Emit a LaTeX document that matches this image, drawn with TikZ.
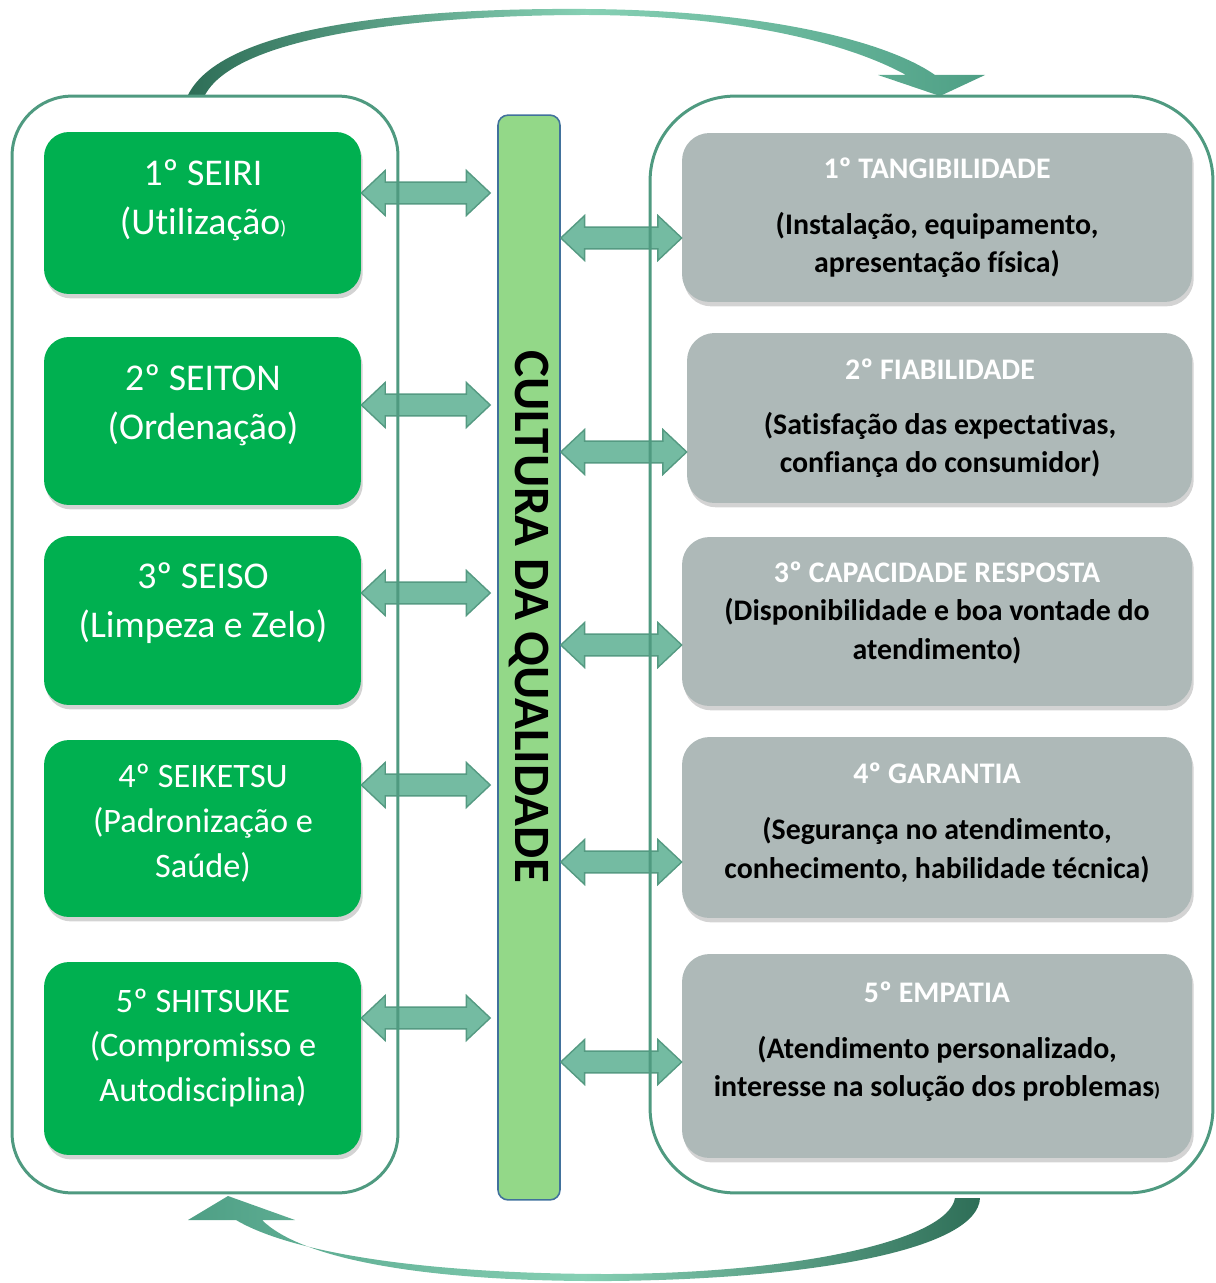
\documentclass[tikz,border=0pt]{standalone}
\usepackage{fontspec}
\setmainfont{Carlito}[Ligatures={NoCommon}]
\usetikzlibrary{calc,shadows}

\definecolor{boxgreen}{HTML}{00B050}
\definecolor{boxgrey}{HTML}{AEB9B8}
\definecolor{barfill}{HTML}{93D888}
\definecolor{barline}{HTML}{41719C}
\definecolor{panelline}{HTML}{4F9A80}
\definecolor{arrfill}{HTML}{74BBA2}
\definecolor{arrline}{HTML}{559A82}
\definecolor{curvedark}{HTML}{2E6E57}
\definecolor{curvelight}{HTML}{86D0B4}
\definecolor{curvemid}{HTML}{4E9F85}

\tikzset{
	panel/.style={draw=panelline, line width=1.7pt, rounded corners=1.2cm},
	boxshadow/.style={drop shadow={shadow xshift=1pt, shadow yshift=-2.5pt, opacity=.35}},
	sbox/.style={fill=boxgreen, rounded corners=0.5cm, minimum width=6.34cm, boxshadow},
	qbox/.style={fill=boxgrey, rounded corners=0.55cm, minimum width=10.2cm, boxshadow},
	bar/.style={fill=barfill, draw=barline, line width=0.9pt, rounded corners=0.2cm,
		minimum width=1.24cm, minimum height=21.7cm},
	stxt/.style={text=white, align=center, font=\fontsize{21.5}{28}\selectfont},
	stxtsmall/.style={text=white, align=center, font=\fontsize{19.5}{25.5}\selectfont},
	qtitle/.style={text=white, font=\fontsize{17}{20}\selectfont\bfseries},
	qbody/.style={text=black, align=center, font=\fontsize{17}{22}\selectfont\bfseries},
	fat/.style={draw=arrline, fill=arrfill, line width=0.8pt, line join=miter,
		to path={let \p1=(\tikztostart), \p2=(\tikztotarget) in
			(\x1,\y1) -- (\x1+13.6pt,\y1+12.8pt) -- (\x1+13.6pt,\y1+6.2pt)
			-- (\x2-13.6pt,\y1+6.2pt) -- (\x2-13.6pt,\y1+12.8pt) -- (\x2,\y1)
			-- (\x2-13.6pt,\y1-12.8pt) -- (\x2-13.6pt,\y1-6.2pt)
			-- (\x1+13.6pt,\y1-6.2pt) -- (\x1+13.6pt,\y1-12.8pt) -- cycle}}
}

\newcommand{\tinyparen}{{\fontsize{11}{11}\selectfont)}}

\begin{document}
\begin{tikzpicture}[x=0.02cm, y=-0.02cm]
	\useasboundingbox (0,0) rectangle (1215,1283);

	% curved arrows round the two panels
	\path[left color=curvedark, right color=curvemid, middle color=curvelight]
		(188,95) .. controls (225,20) and (440,8) .. (585,9)
		.. controls (760,10) and (885,40) .. (935,75)
		-- (985,75) -- (940,96) -- (878,75) -- (906,75)
		.. controls (850,44) and (740,15) .. (585,15)
		.. controls (450,15) and (240,30) .. (205,95) -- cycle;
	\path[left color=curvemid, right color=curvedark, middle color=curvelight]
		(955,1198) -- (980,1198) .. controls (978,1248) and (820,1279) .. (610,1281)
		.. controls (420,1282) and (300,1258) .. (262,1220)
		-- (295,1220) -- (228,1196) -- (188,1220) -- (236,1220)
		.. controls (290,1252) and (420,1274) .. (610,1274)
		.. controls (800,1273) and (948,1240) .. (955,1198) -- cycle;

	% 5S boxes
	\node[sbox, minimum height=3.24cm] (s1) at (202.5,213) {};
	\node[sbox, minimum height=3.36cm] (s2) at (202.5,421) {};
	\node[sbox, minimum height=3.38cm] (s3) at (202.5,620.5) {};
	\node[sbox, minimum height=3.54cm] (s4) at (202.5,828.5) {};
	\node[sbox, minimum height=3.86cm] (s5) at (202.5,1058.5) {};
	\node[stxt] (s1t) at (203,200) {1º SEIRI\\(Utilização\tinyparen};
	\node[stxt] (s2t) at (203,405) {2º SEITON\\(Ordenação)};
	\node[stxt] (s3t) at (203,603) {3º SEISO\\(Limpeza e Zelo)};
	\node[stxtsmall] (s4t) at (203,823) {4º SEIKETSU\\(Padronização e\\Saúde)};
	\node[stxtsmall] (s5t) at (203,1048) {5º SHITSUKE\\(Compromisso e\\Autodisciplina)};

	% quality boxes
	\node[qbox, minimum height=3.38cm] (q1) at (937,217.5) {};
	\node[qbox, minimum width=10.1cm, minimum height=3.4cm] (q2) at (939.5,418) {};
	\node[qbox, minimum height=3.38cm] (q3) at (937,621.5) {};
	\node[qbox, minimum height=3.62cm] (q4) at (937,827.5) {};
	\node[qbox, minimum height=4.08cm] (q5) at (937,1056) {};
	\node[qtitle] (q1h) at (937,168) {1º TANGIBILIDADE};
	\node[qbody] (q1b) at (937,245) {(Instalação, equipamento,\\apresentação física)};
	\node[qtitle] (q2h) at (940,369) {2º FIABILIDADE};
	\node[qbody] (q2b) at (940,445) {(Satisfação das expectativas,\\confiança do consumidor)};
	\node[qtitle] (q3h) at (937,572) {3º CAPACIDADE RESPOSTA};
	\node[qbody] (q3b) at (937,631) {(Disponibilidade e boa vontade do\\atendimento)};
	\node[qtitle] (q4h) at (937,773) {4º GARANTIA};
	\node[qbody] (q4b) at (937,850) {(Segurança no atendimento,\\conhecimento, habilidade técnica)};
	\node[qtitle] (q5h) at (937,992) {5º EMPATIA};
	\node[qbody] (q5b) at (937,1069) {(Atendimento personalizado,\\interesse na solução dos problemas\tinyparen};

	% central bar
	\node[bar] (bar) at (529,657.5) {};
	\node[rotate=-90, font=\fontsize{29}{29}\selectfont\bfseries] (cq) at (529,617) {CULTURA DA QUALIDADE};
	\coordinate (barl) at ([xshift=-0.14cm]bar.west);

	% double arrows
	\draw[fat] (s1.east |- 0,193) to (barl |- 0,193);
	\draw[fat] (s2.east |- 0,405) to (barl |- 0,405);
	\draw[fat] (s3.east |- 0,593) to (barl |- 0,593);
	\draw[fat] (s4.east |- 0,785) to (barl |- 0,785);
	\draw[fat] (s5.east |- 0,1018) to (barl |- 0,1018);
	\draw[fat] (bar.east |- 0,238) to (q1.west |- 0,238);
	\draw[fat] (bar.east |- 0,452) to (q2.west |- 0,452);
	\draw[fat] (bar.east |- 0,645) to (q3.west |- 0,645);
	\draw[fat] (bar.east |- 0,862) to (q4.west |- 0,862);
	\draw[fat] (bar.east |- 0,1062) to (q5.west |- 0,1062);

	% panels
	\node[panel, minimum width=7.72cm, minimum height=21.94cm] (lp) at (205,644.5) {};
	\node[panel, rounded corners=1.7cm, minimum width=11.26cm, minimum height=21.94cm] (rp) at (931.5,644.5) {};
\end{tikzpicture}
\end{document}
